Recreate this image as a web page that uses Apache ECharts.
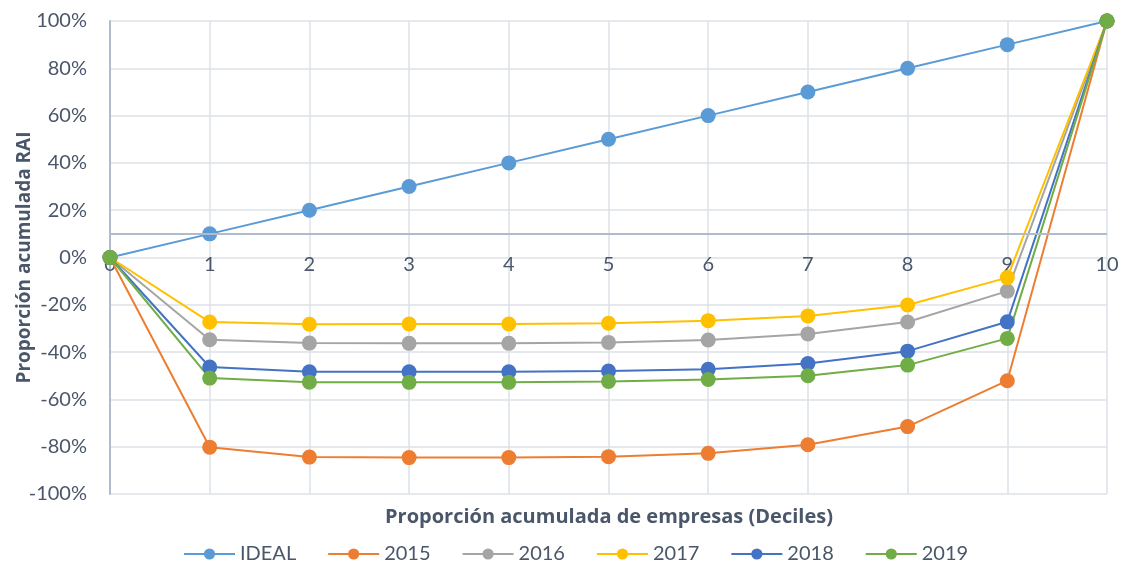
<!DOCTYPE html>
<html>
<head>
<meta charset="utf-8">
<script src="https://cdn.jsdelivr.net/npm/echarts@6/dist/echarts.min.js"></script>
<style>
  html, body { margin: 0; padding: 0; background: #fff; }
  #chart { width: 1131px; height: 565px; }
</style>
</head>
<body>
<div id="chart"></div>
<script>
// Cumulative share of firms (deciles) on the x axis
const deciles = ['0', '1', '2', '3', '4', '5', '6', '7', '8', '9', '10'];

// Cumulative RAI share, in percent
const ideal = [0, 10, 20, 30, 40, 50, 60, 70, 80, 90, 100];
const y2015 = [0, -80.2, -84.4, -84.6, -84.6, -84.2, -82.8, -79.2, -71.5, -52.1, 100];
const y2016 = [0, -34.8, -36.2, -36.3, -36.3, -35.9, -34.9, -32.3, -27.3, -14.2, 100];
const y2017 = [0, -27.3, -28.2, -28.1, -28.1, -27.8, -26.7, -24.7, -20.1, -8.5, 100];
const y2018 = [0, -46.3, -48.3, -48.3, -48.3, -48.0, -47.3, -44.8, -39.6, -27.2, 100];
const y2019 = [0, -51.0, -52.7, -52.8, -52.8, -52.4, -51.6, -50.0, -45.5, -34.2, 100];

const seriesNames = ['IDEAL', '2015', '2016', '2017', '2018', '2019'];
const seriesData = [ideal, y2015, y2016, y2017, y2018, y2019];
const seriesColors = ['#5b9bd5', '#ed7d31', '#a5a5a5', '#ffc000', '#4472c4', '#70ad47'];

// Horizontal reference line drawn in the axis colour
const referenceLevel = 10;

const textColor = '#4a5669';
const axisColor = '#b0bccc';
const gridColor = '#dde2e9';
const fontFamily = 'Lato, "Open Sans", sans-serif';
const titleFont = '"Open Sans", Lato, sans-serif';

const chart = echarts.init(document.getElementById('chart'), null, { renderer: 'canvas' });

const series = seriesNames.map((name, i) => ({
  name: name,
  type: 'line',
  data: seriesData[i],
  symbol: 'circle',
  symbolSize: 15,
  showSymbol: true,
  lineStyle: { width: 2, color: seriesColors[i] },
  itemStyle: { color: seriesColors[i] },
  emphasis: { disabled: true },
  animation: false,
  markLine: i === 0 ? {
    silent: true,
    symbol: 'none',
    label: { show: false },
    lineStyle: { color: axisColor, width: 2, type: 'solid' },
    data: [{ yAxis: referenceLevel }]
  } : undefined
}));

chart.setOption({
  animation: false,
  textStyle: { fontFamily: fontFamily },
  title: {
    text: 'Proporción acumulada de empresas (Deciles)',
    left: 385,
    top: 507,
    padding: 0,
    textStyle: { fontFamily: titleFont, fontSize: 20, fontWeight: 'bold', color: textColor }
  },
  grid: { left: 110, right: 24, top: 21, bottom: 71, containLabel: false, outerBoundsMode: 'none' },
  legend: {
    data: seriesNames,
    top: 544,
    left: 183,
    itemWidth: 51,
    itemHeight: 14,
    itemGap: 31,
    padding: 0,
    textStyle: { fontFamily: fontFamily, fontSize: 20, color: textColor }
  },
  xAxis: {
    type: 'category',
    data: deciles,
    boundaryGap: false,
    axisLine: { show: false, onZero: false },
    axisTick: { show: false },
    axisLabel: {
      color: textColor, fontSize: 20, margin: -239, fontFamily: fontFamily,
      showMinLabel: true, showMaxLabel: true, hideOverlap: false, interval: 0
    },
    splitLine: { show: true, lineStyle: { color: gridColor, width: 1.5 } }
  },
  yAxis: {
    type: 'value',
    min: -100,
    max: 100,
    interval: 20,
    name: 'Proporción acumulada RAI',
    nameLocation: 'middle',
    nameGap: 76,
    nameMoveOverlap: false,
    nameTextStyle: { fontFamily: titleFont, fontSize: 19, fontWeight: 'bold', color: textColor },
    axisLine: { show: true, lineStyle: { color: axisColor, width: 2 } },
    axisTick: { show: false },
    axisLabel: { color: textColor, fontSize: 20, margin: 23, formatter: '{value}%', fontFamily: fontFamily },
    splitLine: { show: true, lineStyle: { color: gridColor, width: 1.5 } }
  },
  series: series
});
</script>
</body>
</html>
